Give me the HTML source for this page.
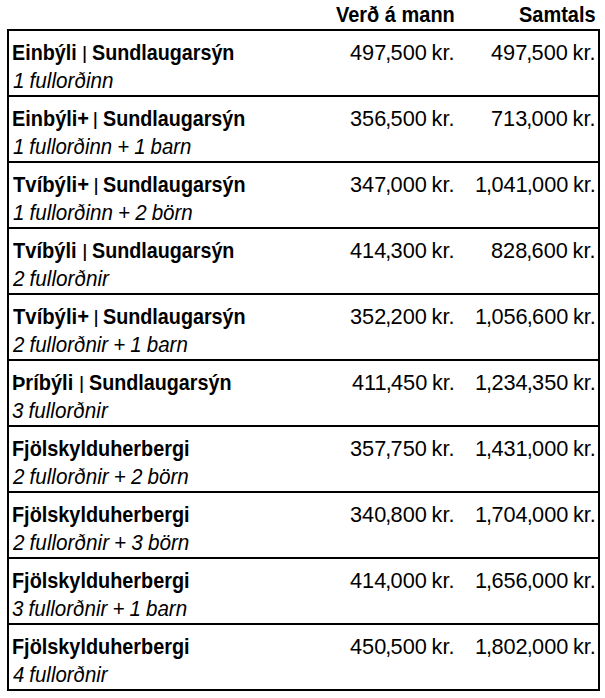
<!DOCTYPE html>
<html lang="is">
<head>
<meta charset="utf-8">
<title>Verð</title>
<style>
html,body{margin:0;padding:0;background:#fff;}
body{width:605px;height:698px;position:relative;overflow:hidden;font-family:"Liberation Sans",sans-serif;color:#000;}
.frame{position:absolute;left:7px;top:29px;width:589px;height:658px;border:2px solid #000;}
.line{position:absolute;left:7px;width:593px;height:2px;background:#000;}
.t{position:absolute;white-space:nowrap;line-height:24px;height:24px;transform-origin:0 0;}
.b{font-weight:bold;font-size:21.8px;}
.b span{position:absolute;top:0;transform-origin:0 0;}
.b .n{font-weight:normal;transform-origin:0 9.66px;transform:scaleY(0.852);}
.i{font-style:italic;font-size:21.8px;word-spacing:-0.7px;}
.h{font-weight:bold;font-size:21.8px;}
.p{font-size:21.8px;word-spacing:-1.4px;}
.p span{margin-left:-1px;margin-right:-0.7px;}
</style>
</head>
<body>
<div class="frame"></div>
<div class="t h" style="top:3px;left:336.21px;transform:scaleX(0.9164)">Verð á mann</div>
<div class="t h" style="top:3px;left:519.03px;transform:scaleX(0.9164)">Samtals</div>
<div class="t b" style="top:41px;left:0"><span style="left:11.83px;transform:scaleX(0.9051)">Einbýli</span> <span class="n" style="left:81.65px">|</span> <span style="left:92.46px;transform:scaleX(0.9045)">Sundlaugarsýn</span></div>
<div class="t i" style="top:69px;left:12.83px;transform:scaleX(0.9491)">1 fullorðinn</div>
<div class="t p" style="top:41px;left:350.1px;transform:scaleX(0.9969)">497<span>,</span>500 kr.</div>
<div class="t p" style="top:41px;left:491.0px;transform:scaleX(0.9969)">497<span>,</span>500 kr.</div>
<div class="line" style="top:95px"></div>
<div class="t b" style="top:107px;left:0"><span style="left:11.82px;transform:scaleX(0.9138)">Einbýli+</span> <span class="n" style="left:92.55px">|</span> <span style="left:102.86px;transform:scaleX(0.9038)">Sundlaugarsýn</span></div>
<div class="t i" style="top:135px;left:12.83px;transform:scaleX(0.9366)">1 fullorðinn + 1 barn</div>
<div class="t p" style="top:107px;left:350.1px;transform:scaleX(0.9969)">356<span>,</span>500 kr.</div>
<div class="t p" style="top:107px;left:491.0px;transform:scaleX(0.9969)">713<span>,</span>000 kr.</div>
<div class="line" style="top:161px"></div>
<div class="t b" style="top:173px;left:0"><span style="left:13.11px;transform:scaleX(0.9288)">Tvíbýli+</span> <span class="n" style="left:93.15px">|</span> <span style="left:103.06px;transform:scaleX(0.9058)">Sundlaugarsýn</span></div>
<div class="t i" style="top:201px;left:12.83px;transform:scaleX(0.944)">1 fullorðinn + 2 börn</div>
<div class="t p" style="top:173px;left:350.1px;transform:scaleX(0.9969)">347<span>,</span>000 kr.</div>
<div class="t p" style="top:173px;left:474.57px;transform:scaleX(0.9969)">1<span>,</span>041<span>,</span>000 kr.</div>
<div class="line" style="top:227px"></div>
<div class="t b" style="top:239px;left:0"><span style="left:13.12px;transform:scaleX(0.9214)">Tvíbýli</span> <span class="n" style="left:82.05px">|</span> <span style="left:92.36px;transform:scaleX(0.9045)">Sundlaugarsýn</span></div>
<div class="t i" style="top:267px;left:12.59px;transform:scaleX(0.9498)">2 fullorðnir</div>
<div class="t p" style="top:239px;left:350.1px;transform:scaleX(0.9969)">414<span>,</span>300 kr.</div>
<div class="t p" style="top:239px;left:491.0px;transform:scaleX(0.9969)">828<span>,</span>600 kr.</div>
<div class="line" style="top:293px"></div>
<div class="t b" style="top:305px;left:0"><span style="left:13.11px;transform:scaleX(0.9288)">Tvíbýli+</span> <span class="n" style="left:93.15px">|</span> <span style="left:103.06px;transform:scaleX(0.9058)">Sundlaugarsýn</span></div>
<div class="t i" style="top:333px;left:12.59px;transform:scaleX(0.942)">2 fullorðnir + 1 barn</div>
<div class="t p" style="top:305px;left:350.1px;transform:scaleX(0.9969)">352<span>,</span>200 kr.</div>
<div class="t p" style="top:305px;left:474.57px;transform:scaleX(0.9969)">1<span>,</span>056<span>,</span>600 kr.</div>
<div class="line" style="top:359px"></div>
<div class="t b" style="top:371px;left:0"><span style="left:12.31px;transform:scaleX(0.9188)">Þríbýli</span> <span class="n" style="left:78.65px">|</span> <span style="left:89.16px;transform:scaleX(0.9051)">Sundlaugarsýn</span></div>
<div class="t i" style="top:399px;left:12.33px;transform:scaleX(0.9475)">3 fullorðnir</div>
<div class="t p" style="top:371px;left:351.72px;transform:scaleX(0.9969)">411<span>,</span>450 kr.</div>
<div class="t p" style="top:371px;left:474.57px;transform:scaleX(0.9969)">1<span>,</span>234<span>,</span>350 kr.</div>
<div class="line" style="top:425px"></div>
<div class="t b" style="top:437px;left:11.93px;transform:scaleX(0.9106)">Fjölskylduherbergi</div>
<div class="t i" style="top:465px;left:12.59px;transform:scaleX(0.9469)">2 fullorðnir + 2 börn</div>
<div class="t p" style="top:437px;left:350.1px;transform:scaleX(0.9969)">357<span>,</span>750 kr.</div>
<div class="t p" style="top:437px;left:474.57px;transform:scaleX(0.9969)">1<span>,</span>431<span>,</span>000 kr.</div>
<div class="line" style="top:491px"></div>
<div class="t b" style="top:503px;left:11.93px;transform:scaleX(0.9106)">Fjölskylduherbergi</div>
<div class="t i" style="top:531px;left:12.59px;transform:scaleX(0.9502)">2 fullorðnir + 3 börn</div>
<div class="t p" style="top:503px;left:350.1px;transform:scaleX(0.9969)">340<span>,</span>800 kr.</div>
<div class="t p" style="top:503px;left:474.57px;transform:scaleX(0.9969)">1<span>,</span>704<span>,</span>000 kr.</div>
<div class="line" style="top:557px"></div>
<div class="t b" style="top:569px;left:11.93px;transform:scaleX(0.9106)">Fjölskylduherbergi</div>
<div class="t i" style="top:597px;left:12.33px;transform:scaleX(0.9435)">3 fullorðnir + 1 barn</div>
<div class="t p" style="top:569px;left:350.1px;transform:scaleX(0.9969)">414<span>,</span>000 kr.</div>
<div class="t p" style="top:569px;left:474.57px;transform:scaleX(0.9969)">1<span>,</span>656<span>,</span>000 kr.</div>
<div class="line" style="top:623px"></div>
<div class="t b" style="top:635px;left:11.93px;transform:scaleX(0.9106)">Fjölskylduherbergi</div>
<div class="t i" style="top:663px;left:12.91px;transform:scaleX(0.9359)">4 fullorðnir</div>
<div class="t p" style="top:635px;left:350.1px;transform:scaleX(0.9969)">450<span>,</span>500 kr.</div>
<div class="t p" style="top:635px;left:474.57px;transform:scaleX(0.9969)">1<span>,</span>802<span>,</span>000 kr.</div>
</body>
</html>
